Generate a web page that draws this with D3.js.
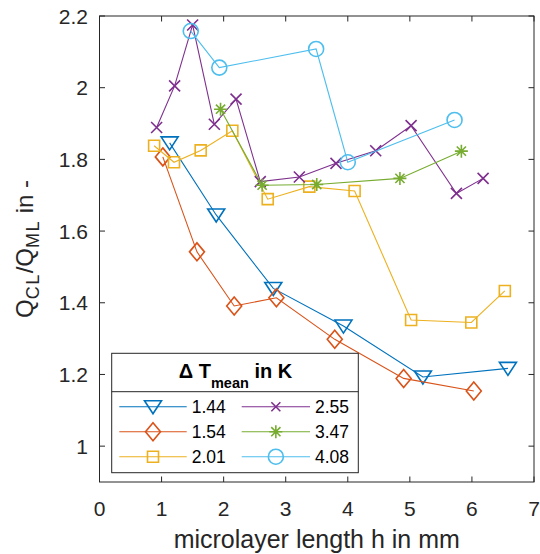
<!DOCTYPE html>
<html>
<head>
<meta charset="utf-8">
<script src="https://cdn.jsdelivr.net/npm/d3@7"></script>
<style>
  html, body { margin: 0; padding: 0; background: #fff; }
  svg { display: block; font-family: "Liberation Sans", Arial, Helvetica, sans-serif; }
</style>
</head>
<body>
<svg id="chart" width="540" height="554"></svg>
<script>
// ---- data ----
const seriesNames = ["1.44", "1.54", "2.01", "2.55", "3.47", "4.08"];
const colors = ["#0072BD", "#D95319", "#EDB120", "#7E2F8E", "#77AC30", "#4DBEEE"];
const markers = ["triangleDown", "diamond", "square", "cross", "asterisk", "circle"];

const h144 = [1.13, 1.88, 2.80, 3.93, 5.21, 6.58];
const q144 = [1.846, 1.645, 1.440, 1.335, 1.193, 1.217];

const h154 = [1.02, 1.57, 2.17, 2.85, 3.79, 4.90, 6.03];
const q154 = [1.807, 1.542, 1.391, 1.414, 1.298, 1.189, 1.154];

const h201 = [0.88, 1.20, 1.63, 2.14, 2.71, 3.38, 4.11, 5.02, 5.99, 6.53];
const q201 = [1.838, 1.792, 1.825, 1.880, 1.689, 1.724, 1.712, 1.352, 1.345, 1.433];

const h255 = [0.92, 1.21, 1.50, 1.85, 2.20, 2.59, 3.22, 3.81, 4.45, 5.02, 5.75, 6.18];
const q255 = [1.889, 2.005, 2.175, 1.898, 1.968, 1.738, 1.751, 1.789, 1.824, 1.894, 1.705, 1.747];

const h347 = [1.95, 2.62, 3.50, 4.84, 5.83];
const q347 = [1.940, 1.728, 1.730, 1.747, 1.823];

const h408 = [1.47, 1.93, 3.49, 4.00, 5.72];
const q408 = [2.158, 2.056, 2.108, 1.792, 1.910];

const xTicks = [0, 1, 2, 3, 4, 5, 6, 7];
const yTicks = [1, 1.2, 1.4, 1.6, 1.8, 2, 2.2];
const xDomain = [0, 7];
const yDomain = [0.9, 2.2];

const hs = [h144, h154, h201, h255, h347, h408];
const qs = [q144, q154, q201, q255, q347, q408];
const series = seriesNames.map((n, i) => ({
  name: n, color: colors[i], marker: markers[i],
  pts: hs[i].map((h, j) => ({ h: h, q: qs[i][j] }))
}));

// ---- layout ----
const svg = d3.select("#chart");
const L = 99.5, R = 534, T = 16, B = 482;
const x = d3.scaleLinear().domain(xDomain).range([L, R]);
const y = d3.scaleLinear().domain(yDomain).range([B, T]);
const axisColor = "#262626";

// marker paths
function markerPath(type, legend) {
  switch (type) {
    case "triangleDown": { const w = 8.5, h1 = 6; return `M${-w},${-h1}L${w},${-h1}L0,${h1 + 1}Z`; }
    case "diamond": { const w = 7.5, h2 = 9; return `M0,${-h2}L${w},0L0,${h2}L${-w},0Z`; }
    case "square": { const s = 5.5; return `M${-s},${-s}H${s}V${s}H${-s}Z`; }
    case "cross": { const s = legend ? 4.5 : 5.5; return `M${-s},${-s}L${s},${s}M${-s},${s}L${s},${-s}`; }
    case "asterisk": { const s = 6.5, d = 4.6; return `M${-s},0H${s}M0,${-s}V${s}M${-d},${-d}L${d},${d}M${-d},${d}L${d},${-d}`; }
    case "circle": { const r = 7.5; return `M${r},0A${r},${r} 0 1,1 ${-r},0A${r},${r} 0 1,1 ${r},0Z`; }
  }
}

// axes box
const g = svg.append("g");
g.append("rect").attr("x", L).attr("y", T).attr("width", R - L).attr("height", B - T)
  .attr("fill", "none").attr("stroke", axisColor).attr("stroke-width", 1);

const tickLen = 5.5;
xTicks.forEach(t => {
  const px = x(t);
  g.append("line").attr("x1", px).attr("x2", px).attr("y1", B).attr("y2", B - tickLen).attr("stroke", axisColor);
  g.append("line").attr("x1", px).attr("x2", px).attr("y1", T).attr("y2", T + tickLen).attr("stroke", axisColor);
  g.append("text").attr("x", px).attr("y", 516).attr("text-anchor", "middle")
    .attr("font-size", 21).attr("fill", axisColor).text(t);
});
yTicks.forEach(t => {
  const py = y(t);
  g.append("line").attr("x1", L).attr("x2", L + tickLen).attr("y1", py).attr("y2", py).attr("stroke", axisColor);
  g.append("line").attr("x1", R).attr("x2", R - tickLen).attr("y1", py).attr("y2", py).attr("stroke", axisColor);
  g.append("text").attr("x", 88).attr("y", py + 7.5).attr("text-anchor", "end")
    .attr("font-size", 21).attr("fill", axisColor).text(d3.format("~g")(t));
});

// axis labels
svg.append("text").attr("x", (L + R) / 2).attr("y", 548).attr("text-anchor", "middle")
  .attr("font-size", 25).attr("fill", axisColor).text("microlayer length h in mm");

const yl = svg.append("text").attr("transform", `translate(33,${(T + B) / 2}) rotate(-90)`)
  .attr("text-anchor", "middle").attr("font-size", 24).attr("fill", axisColor);
yl.append("tspan").text("Q");
yl.append("tspan").attr("font-size", 18).attr("dy", 6).attr("letter-spacing", 1.5).text("CL");
yl.append("tspan").attr("dy", -6).text("/Q");
yl.append("tspan").attr("font-size", 18).attr("dy", 6).attr("letter-spacing", 1.5).text("ML");
yl.append("tspan").attr("dy", -6).text(" in -");

// series
const line = d3.line().x(d => x(d.h)).y(d => y(d.q));
series.forEach(s => {
  const sg = svg.append("g");
  sg.append("path").attr("d", line(s.pts)).attr("fill", "none")
    .attr("stroke", s.color).attr("stroke-width", 1.1);
  sg.selectAll("path.m").data(s.pts).enter().append("path").attr("class", "m")
    .attr("transform", d => `translate(${x(d.h)},${y(d.q)})`)
    .attr("d", markerPath(s.marker, false)).attr("fill", "none")
    .attr("stroke", s.color).attr("stroke-width", 1.6);
});

// legend
const lg = svg.append("g");
const lx0 = 111.7, ly0 = 353.3, lx1 = 358.3, ly1 = 472.7, lsep = 391.7;
lg.append("rect").attr("x", lx0).attr("y", ly0).attr("width", lx1 - lx0).attr("height", ly1 - ly0)
  .attr("fill", "#fff").attr("stroke", axisColor).attr("stroke-width", 1);
lg.append("line").attr("x1", lx0).attr("x2", lx1).attr("y1", lsep).attr("y2", lsep)
  .attr("stroke", axisColor).attr("stroke-width", 1);
const tt = lg.append("text").attr("x", (lx0 + lx1) / 2 + 0.5).attr("y", 378).attr("text-anchor", "middle")
  .attr("font-size", 20).attr("font-weight", "bold").attr("fill", "#000");
tt.append("tspan").text("Δ T");
tt.append("tspan").attr("font-size", 14.5).attr("dy", 10).text("mean");
tt.append("tspan").attr("dy", -10).text(" in K");

const rowsY = [406.7, 431.7, 456.7];
const cols = [{ l0: 119.3, l1: 186.7, tx: 191.7 }, { l0: 241.7, l1: 310, tx: 315 }];
series.forEach((s, i) => {
  const c = cols[Math.floor(i / 3)], ry = rowsY[i % 3];
  lg.append("line").attr("x1", c.l0).attr("x2", c.l1).attr("y1", ry).attr("y2", ry)
    .attr("stroke", s.color).attr("stroke-width", 1.1);
  lg.append("path").attr("transform", `translate(${(c.l0 + c.l1) / 2},${ry})`)
    .attr("d", markerPath(s.marker, true)).attr("fill", "none")
    .attr("stroke", s.color).attr("stroke-width", 1.6);
  lg.append("text").attr("x", c.tx).attr("y", ry + 6.5).attr("font-size", 17.5)
    .attr("fill", "#000").text(s.name);
});
</script>
</body>
</html>
